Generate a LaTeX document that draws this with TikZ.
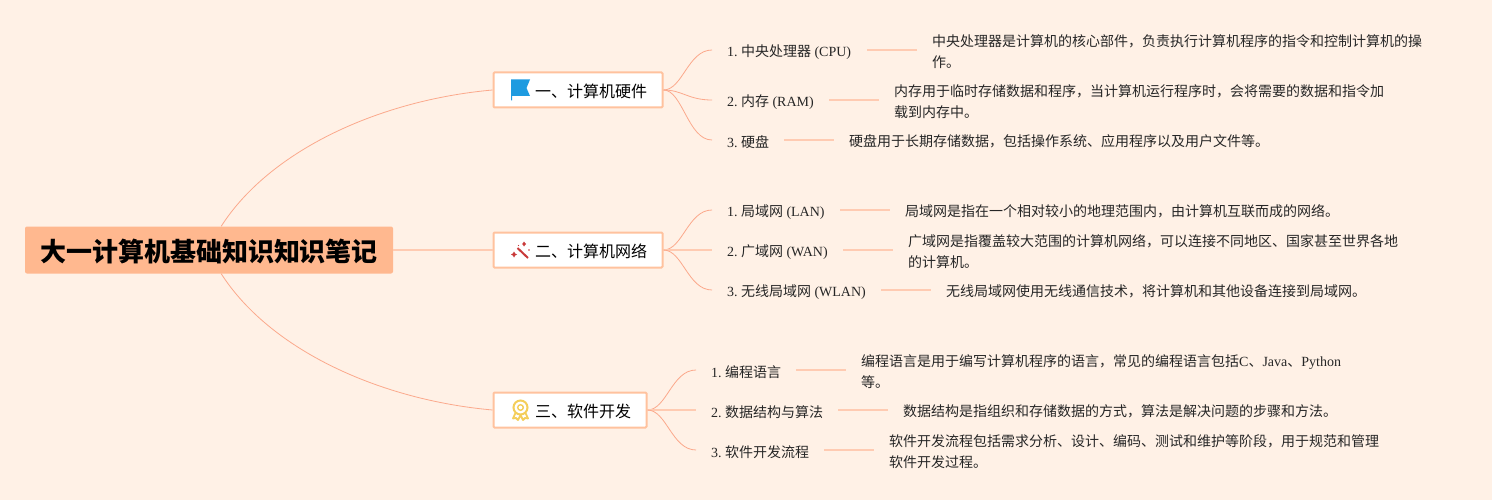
\documentclass[tikz,border=0pt]{standalone}
\usepackage{fontspec}
\setmainfont{Liberation Serif}
\newfontfamily\cjk{Noto Sans CJK SC}
\definecolor{bgc}{HTML}{FFF1E6}
\definecolor{linec}{HTML}{FBA98C}
\definecolor{strc}{HTML}{FFCBB2}
\definecolor{rootc}{HTML}{FFB88F}
\definecolor{boxline}{HTML}{FFC29E}
\definecolor{flagc}{HTML}{1E9BE0}
\definecolor{wandc}{HTML}{C93A3A}
\definecolor{medalc}{HTML}{F4CE5A}
\tikzset{
  link/.style={draw=linec,line width=0.8pt},
  strlink/.style={draw=strc,line width=2pt},
  rootnode/.style={fill=rootc,rounded corners=2pt,minimum width=368pt,minimum height=47pt,inner sep=0pt,text height=26pt,text depth=2.2pt,font=\cjk\bfseries\fontsize{26}{30}\selectfont},
  branch/.style={draw=boxline,line width=2pt,fill=white,rounded corners=1pt,minimum height=35pt,inner sep=0pt,text height=16pt,text depth=1.6pt,font=\cjk\fontsize{16}{20}\selectfont},
  lab/.style={anchor=west,inner xsep=15pt,inner ysep=0pt,align=left,font=\fontsize{14}{21}\selectfont,text=black!85},
  desc/.style={anchor=west,inner xsep=15pt,inner ysep=0pt,align=left,font=\fontsize{14}{21}\selectfont,text=black!85},
}
\newcommand{\lw}[2]{\makebox[#1pt][l]{#2}}
\newcommand{\bcurve}[2]{\draw[link] (#1.east) .. controls +(19pt,0pt) and ([xshift=-24pt,yshift=2pt]#2.west) .. ([yshift=2pt]#2.west);}
\newcommand{\dline}[3][2]{\draw[strlink] ([yshift=2pt]#2.east) -- ([yshift=#1pt]#3.west);}
\begin{document}
\begin{tikzpicture}[x=1pt,y=-1pt]
\fill[bgc] (0,0) rectangle (1492,500);
\useasboundingbox (0,0) rectangle (1492,500);

\node[rootnode] (root) at (209,250) {大一计算机基础知识知识笔记};

\node[branch,minimum width=169pt] (b1) at (578,90) {\hspace*{26pt}一、计算机硬件};
\node[branch,minimum width=169pt] (b2) at (578,250) {\hspace*{26pt}二、计算机网络};
\node[branch,minimum width=153pt] (b3) at (570,410) {\hspace*{26pt}三、软件开发};

\draw[link] ([xshift=-172pt]root.north east) .. controls (270,150) and (380,100) .. (b1.west);
\draw[strlink] (root.east) -- (b2.west);
\draw[link] ([xshift=-172pt]root.south east) .. controls (270,350) and (380,400) .. (b3.west);

% group 1
\node[lab] (l11) at (712,52) {\lw{125}{1.\kern3.3pt {\cjk 中央处理器} (CPU)}};
\node[lab] (l12) at (712,102) {\lw{87}{2.\kern3.3pt {\cjk 内存} (RAM)}};
\node[lab] (l13) at (712,142) {\lw{42}{3.\kern3.3pt {\cjk 硬盘}}};
\node[desc] (d11) at (917,52) {\cjk 中央处理器是计算机的核心部件，负责执行计算机程序的指令和控制计算机的操\\\cjk 作。};
\node[desc] (d12) at (879,102) {\cjk 内存用于临时存储数据和程序，当计算机运行程序时，会将需要的数据和指令加\\\cjk 载到内存中。};
\node[desc] (d13) at (834,141.3) {\cjk 硬盘用于长期存储数据，包括操作系统、应用程序以及用户文件等。};

% group 2
\node[lab] (l21) at (712,212) {\lw{98}{1.\kern3.3pt {\cjk 局域网} (LAN)}};
\node[lab] (l22) at (712,252) {\lw{101}{2.\kern3.3pt {\cjk 广域网} (WAN)}};
\node[lab] (l23) at (712,292) {\lw{139}{3.\kern3.3pt {\cjk 无线局域网} (WLAN)}};
\node[desc] (d21) at (890,211.3) {\cjk 局域网是指在一个相对较小的地理范围内，由计算机互联而成的网络。};
\node[desc] (d22) at (893,252) {\cjk 广域网是指覆盖较大范围的计算机网络，可以连接不同地区、国家甚至世界各地\\\cjk 的计算机。};
\node[desc] (d23) at (931,291.3) {\cjk 无线局域网使用无线通信技术，将计算机和其他设备连接到局域网。};

% group 3
\node[lab] (l31) at (696,372) {\lw{70}{1.\kern3.3pt {\cjk 编程语言}}};
\node[lab] (l32) at (696,412) {\lw{112}{2.\kern3.3pt {\cjk 数据结构与算法}}};
\node[lab] (l33) at (696,452) {\lw{98}{3.\kern3.3pt {\cjk 软件开发流程}}};
\node[desc] (d31) at (846,372) {{\cjk 编程语言是用于编写计算机程序的语言，常见的编程语言包括}C{\cjk 、}Java{\cjk 、}Python\\\cjk 等。};
\node[desc] (d32) at (888,411.3) {\cjk 数据结构是指组织和存储数据的方式，算法是解决问题的步骤和方法。};
\node[desc] (d33) at (874,452) {\cjk 软件开发流程包括需求分析、设计、编码、测试和维护等阶段，用于规范和管理\\\cjk 软件开发过程。};

\bcurve{b1}{l11}\bcurve{b1}{l12}\bcurve{b1}{l13}
\bcurve{b2}{l21}\draw[strlink] (b2.east) -- ([yshift=2pt]l22.west);\bcurve{b2}{l23}
\bcurve{b3}{l31}\draw[strlink] (b3.east) -- ([yshift=2pt]l32.west);\bcurve{b3}{l33}
\dline{l11}{d11}\dline{l12}{d12}\dline[1.3]{l13}{d13}
\dline[1.3]{l21}{d21}\dline{l22}{d22}\dline[1.3]{l23}{d23}
\dline{l31}{d31}\dline[1.3]{l32}{d32}\dline{l33}{d33}

% flag icon
\fill[flagc] (511,79.5) -- (530,79.5) -- (526.5,88) -- (530,96) -- (512,96) -- (512,100.5) -- (511,100.5) -- cycle;
% wand icon
\draw[wandc,line width=2pt] (517.5,248) -- (528,258);
\fill[wandc] (524,241.5) -- (525,243) -- (526,244) -- (525,245) -- (524,246.5) -- (523,245) -- (522,244) -- (523,243) -- cycle;
\fill[wandc] (514,251.5) -- (515.2,253.5) -- (517,254.5) -- (515.2,255.5) -- (514,257.5) -- (512.8,255.5) -- (511,254.5) -- (512.8,253.5) -- cycle;
\fill[wandc] (529,250) circle (0.9);
\fill[wandc] (518.5,245.5) circle (0.7);
% medal icon
\draw[medalc,line width=2pt] (520.5,407.5) circle (7);
\draw[medalc,line width=1.4pt] (520.5,407.5) circle (2.8);
\draw[medalc,line width=1.8pt,line join=round] (515.5,413) -- (513,418.5) -- (516,418) -- (518,420) -- (520.5,415) -- (523,420) -- (525,418) -- (528,418.5) -- (525.5,413);
\end{tikzpicture}
\end{document}
